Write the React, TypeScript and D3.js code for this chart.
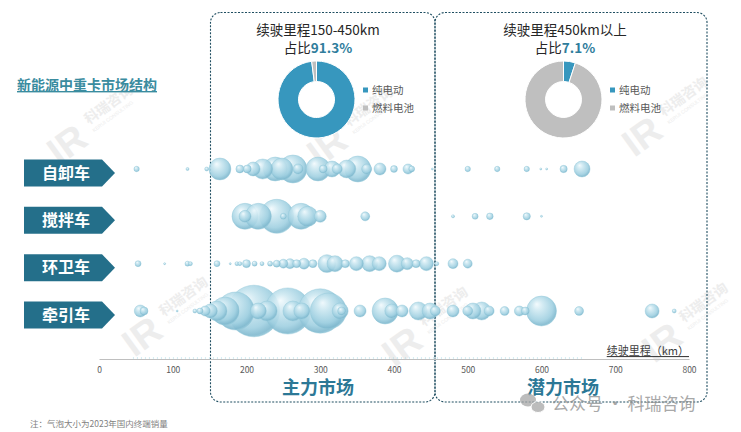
import React, { useEffect, useRef } from 'react';
import * as d3 from 'd3';

const categories = ['自卸车', '搅拌车', '环卫车', '牵引车'];

const dumpKm = [51, 120, 146, 164, 191, 201, 209, 222, 239, 248, 263, 270, 297, 304, 316, 323, 336, 351, 363, 381, 400, 419, 424, 452, 500, 540, 580, 599, 607, 630, 655];
const dumpSales = [110, 35, 60, 1800, 240, 240, 730, 1500, 2150, 1800, 2950, 380, 2150, 240, 960, 380, 1200, 2550, 380, 540, 180, 380, 130, 15, 110, 110, 110, 15, 15, 200, 960];

const mixerKm = [198, 198, 216, 241, 250, 274, 283, 300, 361, 480, 510, 530, 580, 600];
const mixerSales = [2550, 540, 2550, 4350, 135, 2550, 1500, 540, 300, 35, 135, 165, 200, 15];

const sanitKm = [53, 89, 120, 124, 160, 178, 187, 191, 200, 211, 221, 232, 241, 250, 259, 268, 278, 290, 309, 320, 334, 349, 367, 380, 404, 418, 430, 444, 458, 480, 500];
const sanitSales = [135, 15, 95, 60, 135, 15, 60, 60, 240, 95, 60, 95, 185, 300, 375, 240, 450, 240, 1200, 960, 240, 735, 960, 735, 1080, 540, 240, 735, 60, 375, 300];

const tractorKm = [56, 61, 106, 130, 137, 144, 151, 160, 171, 185, 210, 216, 228, 256, 263, 275, 300, 311, 327, 329, 354, 388, 397, 411, 433, 449, 456, 480, 500, 507, 519, 529, 550, 570, 578, 600, 651, 750, 780];
const tractorSales = [540, 240, 15, 60, 135, 375, 735, 1500, 2950, 5400, 10000, 960, 1500, 8000, 1500, 960, 7400, 4860, 960, 240, 540, 2550, 735, 540, 1215, 960, 375, 540, 375, 960, 1215, 375, 300, 375, 240, 3375, 300, 735, 60];

const seriesKm = [dumpKm, mixerKm, sanitKm, tractorKm];
const seriesSales = [dumpSales, mixerSales, sanitSales, tractorSales];

const axisTicks = [0, 100, 200, 300, 400, 500, 600, 700, 800];
const donutLabels = ['纯电动', '燃料电池'];
const midRangeMix = [98, 2];
const longRangeMix = [5, 95];
const rangeTitles = ['续驶里程150-450km', '续驶里程450km以上'];
const rangeShares = ['91.3%', '7.1%'];
const marketNames = ['主力市场', '潜力市场'];
const chartTitle = '新能源中重卡市场结构';
const axisTitle = '续驶里程（km）';
const footnote = '注：气泡大小为2023年国内终端销量';
const watermark = '公众号 · 科瑞咨询';

const FONT = "'Microsoft YaHei','Noto Sans CJK SC','Noto Sans',sans-serif";

export default function App() {
  const ref = useRef<SVGSVGElement | null>(null);

  useEffect(() => {
    const svg = d3.select(ref.current);
    svg.selectAll('*').remove();
    svg.attr('font-family', FONT);

    const x = d3.scaleLinear().domain([0, 800]).range([99, 689]);
    const y = d3.scalePoint<string>().domain(categories).range([169, 311]);
    const r = d3.scaleSqrt().domain([0, 10000]).range([0, 25.8]);

    const defs = svg.append('defs');
    const g = defs.append('radialGradient').attr('id', 'bub')
      .attr('cx', 0.45).attr('cy', 0.42).attr('r', 0.6).attr('fx', 0.34).attr('fy', 0.27);
    g.append('stop').attr('offset', '0%').attr('stop-color', '#f2fafd');
    g.append('stop').attr('offset', '30%').attr('stop-color', '#cde8f1');
    g.append('stop').attr('offset', '75%').attr('stop-color', '#a0d0e1');
    g.append('stop').attr('offset', '93%').attr('stop-color', '#80b9cf');
    g.append('stop').attr('offset', '100%').attr('stop-color', '#98c9da');

    // watermarks (faint)
    const wmPos = [[85, 130], [345, 132], [660, 122], [160, 322], [420, 332], [680, 328]];
    wmPos.forEach(([wx, wy]) => {
      const w = svg.append('g').attr('transform', `translate(${wx},${wy}) rotate(-36)`).attr('opacity', 0.6);
      w.append('text').attr('x', -42).attr('y', 14).attr('font-size', 38).attr('font-weight', 900)
        .attr('fill', '#e2e2e2').attr('font-family', 'Arial, sans-serif').text('IR');
      w.append('text').attr('x', 6).attr('y', -2).attr('font-size', 14).attr('font-weight', 700)
        .attr('fill', '#e2e2e2').text('科瑞咨询');
      w.append('text').attr('x', 6).attr('y', 7).attr('font-size', 5).attr('fill', '#e2e2e2')
        .attr('font-family', 'Arial, sans-serif').text('KERUI CONSULTING');
    });

    // title
    svg.append('text').attr('x', 17).attr('y', 90).attr('font-size', 14).attr('font-weight', 700)
      .attr('fill', '#3a8c9f').attr('text-decoration', 'underline').text(chartTitle);

    // dashed market boxes
    const boxes = [[210.5, 435], [435, 707]];
    boxes.forEach(([x0, x1]) => {
      svg.append('rect').attr('x', x0).attr('y', 12.5).attr('width', x1 - x0).attr('height', 389.5)
        .attr('rx', 10).attr('fill', 'none').attr('stroke', '#1f4e61').attr('stroke-width', 1.1)
        .attr('stroke-dasharray', '2,1.5');
    });

    // range titles and donuts
    const centers = [318, 565];
    const mixes = [midRangeMix, longRangeMix];
    const donutColors = ['#3797be', '#bfbfbf'];
    const pie = d3.pie<number>().sort(null).value((d) => d);
    const arc = d3.arc<d3.PieArcDatum<number>>().innerRadius(18).outerRadius(38.5);
    centers.forEach((cx, i) => {
      svg.append('text').attr('x', cx).attr('y', 35).attr('text-anchor', 'middle').attr('font-size', 13.5)
        .attr('fill', '#262626').text(rangeTitles[i]);
      const t = svg.append('text').attr('x', cx).attr('y', 53).attr('text-anchor', 'middle').attr('font-size', 13.5)
        .attr('fill', '#262626');
      t.append('tspan').text('占比');
      t.append('tspan').attr('font-weight', 700).attr('fill', '#2f7d9c').text(rangeShares[i]);
      const dg = svg.append('g').attr('transform', `translate(${cx - 1.5},${99.5})`);
      dg.selectAll('path').data(pie(mixes[i])).join('path')
        .attr('d', arc as any).attr('fill', (_d, j) => donutColors[j])
        .attr('stroke', '#fff').attr('stroke-width', 1);
      const lx = cx + 45;
      donutLabels.forEach((lab, j) => {
        const ly = 90 + j * 18;
        svg.append('rect').attr('x', lx).attr('y', ly - 2.5).attr('width', 5).attr('height', 5).attr('fill', donutColors[j]);
        svg.append('text').attr('x', lx + 9).attr('y', ly).attr('dy', '0.35em').attr('font-size', 10.5)
          .attr('fill', '#595959').text(lab);
      });
    });

    // row labels
    categories.forEach((c) => {
      const cy = (y(c) as number) + 4;
      svg.append('path')
        .attr('d', `M24,${cy - 13.5}L102,${cy - 13.5}L115,${cy}L102,${cy + 13.5}L24,${cy + 13.5}Z`)
        .attr('fill', '#246f8a');
      svg.append('text').attr('x', 66).attr('y', cy).attr('dy', '0.36em').attr('text-anchor', 'middle')
        .attr('font-size', 16).attr('font-weight', 700).attr('fill', '#fff').text(c);
    });

    // axis
    const axis = svg.append('g').attr('transform', 'translate(0,359)')
      .call(d3.axisBottom(x).tickValues(axisTicks).tickSize(0).tickSizeOuter(0).tickPadding(8).tickFormat(d3.format('d')) as any);
    axis.select('.domain').attr('stroke', '#bfbfbf').attr('stroke-width', 1);
    axis.selectAll('text').attr('font-size', 8.5).attr('fill', '#595959').attr('font-family', FONT);

    svg.append('line').attr('x1', x(46)).attr('x2', x(656)).attr('y1', 358).attr('y2', 358)
      .attr('stroke', '#a8dbe8').attr('stroke-width', 1.2).attr('stroke-dasharray', '1,3');

    svg.append('text').attr('x', 689).attr('y', 355).attr('text-anchor', 'end').attr('font-size', 11)
      .attr('fill', '#404040').attr('text-decoration', 'underline').text(axisTitle);

    // bubbles
    type B = { cat: string; km: number; v: number };
    const bubbles: B[] = [];
    categories.forEach((c, i) => {
      seriesKm[i].forEach((km, j) => bubbles.push({ cat: c, km, v: seriesSales[i][j] }));
    });
    bubbles.sort((a, b) => b.v - a.v);
    svg.append('g').selectAll('circle').data(bubbles).join('circle')
      .attr('cx', (d) => x(d.km)).attr('cy', (d) => y(d.cat) as number)
      .attr('r', (d) => Math.max(0.8, r(d.v)))
      .attr('fill', 'url(#bub)').attr('fill-opacity', 0.9)
      .attr('stroke', '#8dc4d7').attr('stroke-width', 0.4);

    // market labels
    [318, 563].forEach((mx, i) => {
      svg.append('text').attr('x', mx).attr('y', 388).attr('dy', '0.36em').attr('text-anchor', 'middle')
        .attr('font-size', 18).attr('font-weight', 700).attr('fill', '#2c7896').text(marketNames[i]);
    });

    // footnote
    svg.append('text').attr('x', 30).attr('y', 427).attr('font-size', 8.5).attr('fill', '#7f7f7f').text(footnote);

    // bottom-right watermark
    const wm = svg.append('g').attr('opacity', 0.75);
    wm.append('ellipse').attr('cx', 528).attr('cy', 400).attr('rx', 8).attr('ry', 6.5).attr('fill', '#a6a6a6');
    wm.append('ellipse').attr('cx', 538).attr('cy', 407).attr('rx', 7).attr('ry', 5.5).attr('fill', '#a6a6a6').attr('stroke', '#fff').attr('stroke-width', 1);
    wm.append('text').attr('x', 552).attr('y', 404).attr('dy', '0.36em').attr('font-size', 17)
      .attr('fill', '#8c8c8c').text(watermark);
  }, []);

  return (
    <svg ref={ref} width={741} height={432} style={{ position: 'absolute', left: 0, top: 0, background: '#fff' }} />
  );
}
